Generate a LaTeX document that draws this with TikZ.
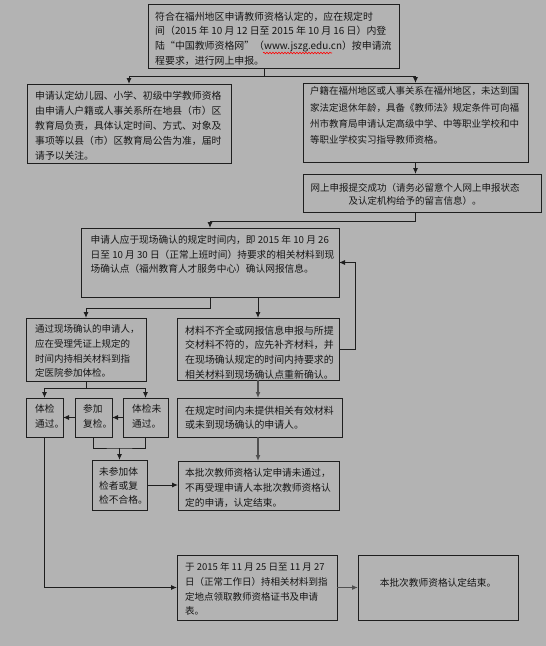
\documentclass[tikz,border=0pt]{standalone}
\usepackage{fontspec}
\newfontfamily\cjk{Noto Sans CJK SC}
\usetikzlibrary{arrows.meta,calc,decorations.pathmorphing}
\definecolor{bgc}{HTML}{B3B3B3}
\definecolor{lnc}{HTML}{1E1E1E}
\definecolor{glc}{HTML}{505050}
\definecolor{tcc}{HTML}{161616}
\begin{document}
\begin{tikzpicture}[x=1pt,y=-1pt,
  box/.style={draw=lnc, line width=1pt, inner sep=0pt, outer sep=0pt, anchor=north west},
  txt/.style={font=\cjk\fontsize{9.7}{14.7}\selectfont, text=tcc, inner sep=0pt, align=left, anchor=north west},
  conn/.style={draw=lnc, line width=1pt},
  arr/.style={draw=lnc, line width=1pt, -{Latex[length=6pt,width=5pt]}},
  garr/.style={draw=glc, line width=1.6pt, -{Latex[length=6pt,width=5pt]}},
  wavy/.style={draw=red, line width=0.6pt, decorate, decoration={snake, segment length=3pt, amplitude=0.8pt}}]
\fill[bgc] (0,0) rectangle (546,646);
\useasboundingbox (0,0) rectangle (546,646);

% boxes
\node[box, minimum width=251pt, minimum height=64pt] (b1) at (148,4) {};
\node[box, minimum width=204pt, minimum height=79pt] (b2) at (27,84) {};
\node[box, minimum width=225pt, minimum height=79pt] (b3) at (303,83) {};
\node[box, minimum width=238pt, minimum height=38pt] (b4) at (303,174) {};
\node[box, minimum width=258pt, minimum height=69pt] (b5) at (81,228) {};
\node[box, minimum width=120pt, minimum height=63pt] (b6) at (26,318) {};
\node[box, minimum width=162pt, minimum height=62pt] (b7) at (177,318) {};
\node[box, minimum width=37pt, minimum height=39pt] (b8) at (26,398) {};
\node[box, minimum width=37pt, minimum height=39pt] (b9) at (75,398) {};
\node[box, minimum width=45pt, minimum height=39pt] (b10) at (123,398) {};
\node[box, minimum width=55pt, minimum height=50pt] (b11) at (92,460) {};
\node[box, minimum width=165pt, minimum height=39pt] (b12) at (177,398) {};
\node[box, minimum width=161pt, minimum height=49pt] (b13) at (178,461) {};
\node[box, minimum width=160pt, minimum height=65pt] (b14) at (177,555) {};
\node[box, minimum width=160pt, minimum height=65pt] (b15) at (358,555) {};

% texts
\node[txt, font=\cjk\fontsize{9.9}{14.7}\selectfont] (t1) at (155,11.5) {符合在福州地区申请教师资格认定的，应在规定时\\间（2015 年 10 月 12 日至 2015 年 10 月 16 日）内登\\陆“中国教师资格网”（www.jszg.edu.cn）按申请流\\程要求，进行网上申报。};
\node[txt, font=\cjk\fontsize{9.8}{15}\selectfont] (t2) at (35,90.5) {申请认定幼儿园、小学、初级中学教师资格\\由申请人户籍或人事关系所在地县（市）区\\教育局负责，具体认定时间、方式、对象及\\事项等以县（市）区教育局公告为准，届时\\请予以关注。};
\node[txt, font=\cjk\fontsize{9.5}{16.3}\selectfont] (t3) at (310,86.5) {户籍在福州地区或人事关系在福州地区，未达到国\\家法定退休年龄，具备《教师法》规定条件可向福\\州市教育局申请认定高级中学、中等职业学校和中\\等职业学校实习指导教师资格。};
\node[txt, anchor=north, align=center, font=\cjk\fontsize{9.5}{12.5}\selectfont] (t4) at (415,183.5) {网上申报提交成功（请务必留意个人网上申报状态\\及认定机构给予的留言信息）。};
\node[txt, font=\cjk\fontsize{9.7}{14.5}\selectfont] (t5) at (90.5,235.5) {申请人应于现场确认的规定时间内，即 2015 年 10 月 26\\日至 10 月 30 日（正常上班时间）持要求的相关材料到现\\场确认点（福州教育人才服务中心）确认网报信息。};
\node[txt, font=\cjk\fontsize{9.5}{14.7}\selectfont] (t6) at (35,324.5) {通过现场确认的申请人，\\应在受理凭证上规定的\\时间内持相关材料到指\\定医院参加体检。};
\node[txt, font=\cjk\fontsize{9.9}{14.7}\selectfont] (t7) at (185,325.5) {材料不齐全或网报信息申报与所提\\交材料不符的，应先补齐材料，并\\在现场确认规定的时间内持要求的\\相关材料到现场确认点重新确认。};
\node[txt] (t8) at (35,404.5) {体检\\通过。};
\node[txt] (t9) at (83,404.5) {参加\\复检。};
\node[txt] (t10) at (132,404.5) {体检未\\通过。};
\node[txt, font=\cjk\fontsize{9.7}{14}\selectfont] (t11) at (99,467.5) {未参加体\\检者或复\\检不合格。};
\node[txt, font=\cjk\fontsize{9.9}{14.7}\selectfont] (t12) at (185,405.5) {在规定时间内未提供相关有效材料\\或未到现场确认的申请人。};
\node[txt, font=\cjk\fontsize{9.7}{14.7}\selectfont] (t13) at (185,468.5) {本批次教师资格认定申请未通过，\\不再受理申请人本批次教师资格认\\定的申请，认定结束。};
\node[txt, font=\cjk\fontsize{9.5}{14.7}\selectfont] (t14) at (185,562.5) {于 2015 年 11 月 25 日至 11 月 27\\日（正常工作日）持相关材料到指\\定地点领取教师资格证书及申请\\表。};
\node[txt, anchor=center] (t15) at (438,583) {本批次教师资格认定结束。};

% spell-check wavy underline under the URL
\draw[wavy] (263,53) -- (332,53);

% connectors
\coordinate (j1) at (264,76);
\draw[conn] (j1 |- b1.south) -- (j1);
\draw[arr] (j1) -| (b2.north);
\draw[arr] (j1) -| (b3.north);
\draw[arr] (b3.south) -- (b3.south |- b4.north);
\draw[arr] (b3.south |- b4.south) -- ++(0,9) -| (b5.north);
\draw[arr] (b7.east) -- ++(16,0) |- (b5.east);
\draw[arr] (b5.south) -- ++(0,11) -| (b6.north);
\draw[arr] (b5.south -| b7.north) -- (b7.north);
\coordinate (j2) at ($(b6.south)+(0,7)$);
\draw[conn] (b6.south) -- (j2);
\draw[arr] (j2) -| (b8.north);
\draw[arr] (j2) -| (b10.north);
\draw[arr] (b10.west) -- (b9.east);
\draw[arr] (b9.west) -- (b8.east);
\coordinate (j3) at (b11.north |- 0,448);
\draw[conn] (b9.south) |- (j3) -| (b10.south);
\draw[arr] (j3) -- (b11.north);
\draw[arr] (b11.east) -- (b11.east -| b13.west);
\draw[garr] (b7.south) -- (b7.south |- b12.north);
\draw[garr] (b7.south |- b12.south) -- (b7.south |- b13.north);
\draw[arr] (b8.south) |- (b14.west);
\draw[garr] (b14.east) -- (b15.west);
\end{tikzpicture}
\end{document}
